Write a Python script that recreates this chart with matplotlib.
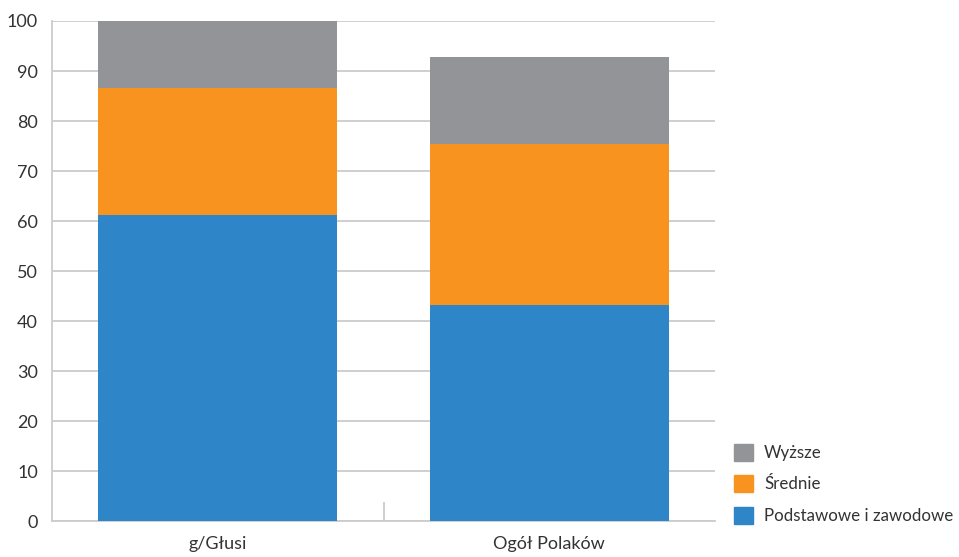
import matplotlib
matplotlib.use("Agg")
import matplotlib.pyplot as plt
from matplotlib.patches import Patch

plt.rcParams["font.family"] = ["Lato", "DejaVu Sans"]
plt.rcParams["font.size"] = 13
TEXT = "#333333"
GRID = "#cccccc"

groups = ["g/Głusi", "Ogół Polaków"]
series = ["Podstawowe i zawodowe", "Średnie", "Wyższe"]
podstawowe = [61.2, 43.2]
srednie = [25.5, 32.3]
wyzsze = [13.3, 17.3]
colors = ["#2e86c8", "#f7931e", "#939497"]

fig = plt.figure(figsize=(9.59, 5.57), dpi=100)
ax = fig.add_axes([0.0542, 0.0646, 0.6914, 0.8977])

x = range(len(groups))
bottom = [0, 0]
for vals, col in zip([podstawowe, srednie, wyzsze], colors):
    ax.bar(x, vals, 0.72, bottom=bottom, color=col, zorder=3)
    bottom = [b + v for b, v in zip(bottom, vals)]

ax.set_xlim(-0.5, 1.5)
ax.set_ylim(0, 100)
ax.set_yticks(range(0, 101, 10))
ax.yaxis.grid(True, color=GRID, lw=1.3)
ax.set_axisbelow(True)
for s in ("top", "right"):
    ax.spines[s].set_visible(False)
for s in ("left", "bottom"):
    ax.spines[s].set_color(GRID)
    ax.spines[s].set_linewidth(1.3)
ax.tick_params(axis="y", length=0, pad=10, colors=TEXT)
ax.set_xticks(list(x))
ax.set_xticklabels(groups)
ax.tick_params(axis="x", length=0, pad=11, colors=TEXT)
ax.set_xticks([0.5], minor=True)
ax.tick_params(axis="x", which="minor", direction="in", length=14, width=1.3, color=GRID)

handles = [Patch(color=c, label=l) for c, l in zip(colors, series)][::-1]
leg = fig.legend(handles=handles, loc="lower left", bbox_to_anchor=(0.758, 0.047),
                 frameon=False, fontsize=12.2, handlelength=1.15, handleheight=1.15,
                 labelspacing=0.85, handletextpad=0.65, borderaxespad=0)
for t in leg.get_texts():
    t.set_color(TEXT)

fig.savefig("out.png")
